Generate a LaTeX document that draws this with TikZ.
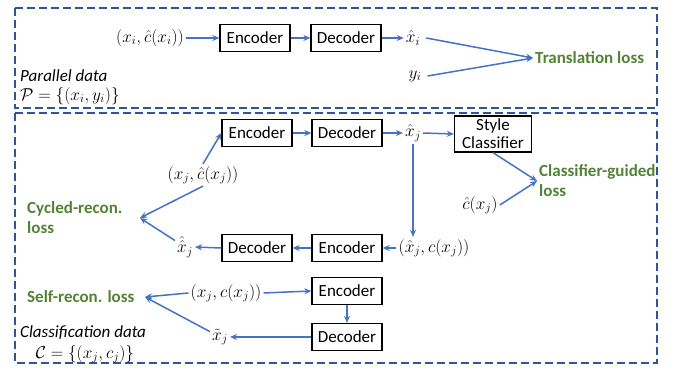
\documentclass[tikz,border=0pt]{standalone}
\usepackage{fontspec}
\setmainfont{Carlito}
\usetikzlibrary{arrows.meta}
\definecolor{bblue}{HTML}{4472C4}
\definecolor{dblue}{HTML}{2F5597}
\definecolor{lgreen}{HTML}{548235}
\tikzset{
 box/.style={draw=black, line width=1.3pt, minimum width=70pt, minimum height=27pt, inner sep=0pt, font=\fontsize{17}{20}\selectfont},
 lbl/.style={inner sep=2pt, font=\fontsize{17}{20}\selectfont},
 loss/.style={text=lgreen, font=\fontsize{17}{20}\selectfont\bfseries, inner sep=2pt, align=left},
 arr/.style={draw=bblue, line width=1.5pt, -{Stealth[length=7pt,width=6pt]}},
 frame/.style={draw=dblue, line width=2pt, dash pattern=on 8pt off 4pt},
}
\begin{document}
\begin{tikzpicture}[x=1pt,y=-1pt]
\useasboundingbox (0,0) rectangle (676,371);
\draw[frame] (15,8) rectangle (657,108);
\draw[frame] (15,113) rectangle (657,363);

% top: parallel data
\node[lbl] (a1) at (150,38) {$(x_i,\hat{c}(x_i))$};
\node[box] (enc1) at (255,38) {Encoder};
\node[box] (dec1) at (346,38) {Decoder};
\node[lbl] (xh1) at (413,38) {$\hat{x}_i$};
\node[lbl] (y1) at (415,76) {$y_i$};
\node[loss, anchor=west] (tl) at (533,58) {Translation loss};
\node[lbl, anchor=west, font=\fontsize{17}{20}\selectfont\itshape] (pd) at (18,76) {Parallel data};
\node[lbl, anchor=west] (pset) at (18,96) {$\mathcal{P}=\{(x_i,y_i)\}$};
\draw[arr] (a1.east) -- (enc1.west);
\draw[arr] (enc1.east) -- (dec1.west);
\draw[arr] (dec1.east) -- (xh1.west);
\draw[arr] ([xshift=4pt]xh1.east) -- (tl.west);
\draw[arr] ([xshift=4pt]y1.east) -- (tl.west);

% cycle part
\node[box] (enc2) at (257,133) {Encoder};
\node[box] (dec2) at (347,133) {Decoder};
\node[lbl] (xh2) at (413,133) {$\hat{x}_j$};
\node[box, minimum width=77pt, minimum height=36pt, align=center, font=\fontsize{17}{18}\selectfont] (sc) at (493,134) {Style\\Classifier};
\node[loss, anchor=west] (cgl) at (537,181) {Classifier-guided\\loss};
\node[lbl] (chat) at (480,205) {$\hat{c}(x_j)$};
\node[lbl] (a2) at (203,175) {$(x_j,\hat{c}(x_j))$};
\node[loss, anchor=west] (cyc) at (25,218) {Cycled-recon.\\loss};
\coordinate (cycp) at (140,218);
\node[lbl] (xhh) at (185,247) {$\hat{\hat{x}}_j$};
\node[box] (dec3) at (257,248) {Decoder};
\node[box] (enc3) at (347,248) {Encoder};
\node[lbl] (b3) at (434,248) {$(\hat{x}_j,c(x_j))$};
\draw[arr] (a2.north) -- (enc2.west);
\draw[arr] (enc2.east) -- (dec2.west);
\draw[arr] (dec2.east) -- (xh2.west);
\draw[arr] (xh2.east) -- (sc.west);
\draw[arr] (sc.south) -- (cgl.west);
\draw[arr] (chat.east) -- (cgl.west);
\draw[arr] (xh2.south) -- (xh2.south |- b3.north);
\draw[arr] (b3.west) -- (enc3.east);
\draw[arr] (enc3.west) -- (dec3.east);
\draw[arr] (dec3.west) -- (xhh.east);
\draw[arr] (a2.south) -- (cycp);
\draw[arr] (xhh) -- (cycp);

% self-reconstruction
\node[lbl] (a4) at (226,293) {$(x_j,c(x_j))$};
\node[box] (enc4) at (347,291) {Encoder};
\node[box] (dec4) at (347,337) {Decoder};
\node[lbl] (xt) at (220,337) {$\tilde{x}_j$};
\node[loss, anchor=west] (srl) at (25,297) {Self-recon. loss};
\coordinate (srp) at (145,297);
\node[lbl, anchor=west, font=\fontsize{17}{20}\selectfont\itshape] (cd) at (18,333) {Classification data};
\node[lbl] (cset) at (85,354) {$\mathcal{C}=\big\{(x_j,c_j)\big\}$};
\draw[arr] (a4.west) -- (srp);
\draw[arr] (xt) -- (srp);
\draw[arr] (a4.east) -- (enc4.west);
\draw[arr] (enc4.south) -- (dec4.north);
\draw[arr] (dec4.west) -- (xt.east);
\end{tikzpicture}
\end{document}
